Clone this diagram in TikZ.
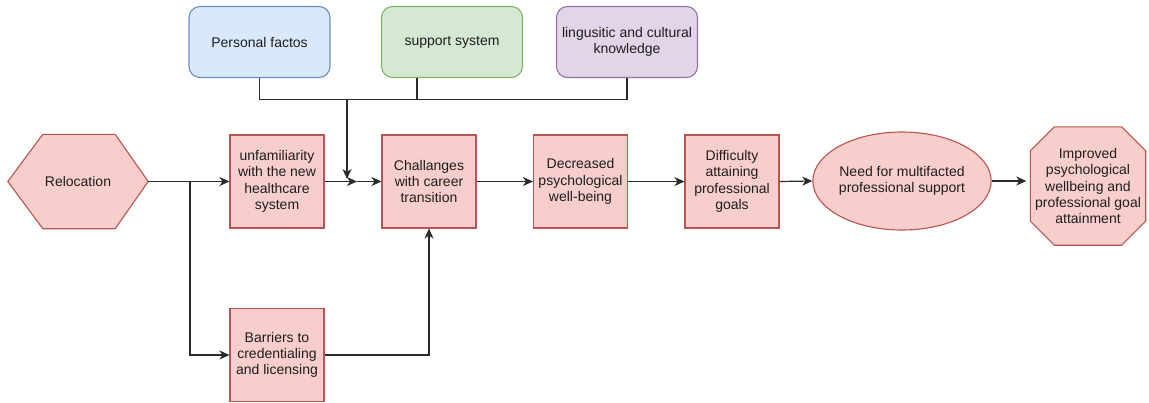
\documentclass[tikz,border=0pt]{standalone}
\usepackage{fontspec}
\setmainfont{Liberation Sans}
\usetikzlibrary{arrows.meta,shapes.geometric,calc}

\definecolor{redfill}{HTML}{F8CECC}
\definecolor{redline}{HTML}{B85450}
\definecolor{bluefill}{HTML}{DAE8FC}
\definecolor{blueline}{HTML}{6C8EBF}
\definecolor{greenfill}{HTML}{D5E8D4}
\definecolor{greenline}{HTML}{82B366}
\definecolor{purplefill}{HTML}{E1D5E7}
\definecolor{purpleline}{HTML}{9673A6}
\definecolor{ink}{HTML}{1E1E1E}
\definecolor{wire}{HTML}{2A2A2A}

\tikzset{
  base/.style={font=\fontsize{14}{16.3}\selectfont, text=ink, align=center, inner sep=0pt},
  stepbox/.style={base, draw=redline, fill=redfill, line width=1.1pt,
    minimum width=94pt, minimum height=93pt},
  factor/.style={base, rounded corners=11pt, line width=1.1pt,
    minimum width=141pt, minimum height=71pt},
  wirebase/.style={draw=wire, line width=1.2pt},
  flow/.style={wirebase, -{Stealth[length=10pt,width=9pt,inset=3pt]}},
}

\begin{document}
\begin{tikzpicture}[x=1pt,y=-1pt]
\useasboundingbox (0,0) rectangle (1149,402);

% influencing factors
\node[factor, draw=blueline, fill=bluefill] (pf) at (259.5,42) {Personal factos};
\node[factor, draw=greenline, fill=greenfill] (ss) at (452,42) {support system};
\node[factor, draw=purpleline, fill=purplefill] (lc) at (627,42) {lingusitic and cultural\\knowledge};

% relocation hexagon
\node[base, minimum width=140pt, minimum height=94pt] (reloc) at (78,181.5) {};
\filldraw[draw=redline, fill=redfill, line width=1.1pt]
  (reloc.west) -- ([xshift=35pt]reloc.north west) -- ([xshift=-33pt]reloc.north east)
  -- (reloc.east) -- ([xshift=-33pt]reloc.south east) -- ([xshift=35pt]reloc.south west) -- cycle;
\node[base] at (reloc.center) {Relocation};

% main chain
\node[stepbox] (unf) at (277,181.5) {unfamiliarity\\with the new\\healthcare\\system};
\node[stepbox] (bar) at (277,355) {Barriers to\\credentialing\\and licensing};
\node[stepbox] (chal) at (429,181.5) {Challanges\\with career\\transition};
\node[stepbox] (dec) at (580.5,181.5) {Decreased\\psychological\\well-being};
\node[stepbox] (diff) at (732,181.5) {Difficulty\\attaining\\professional\\goals};
\node[base, ellipse, draw=redline, fill=redfill, line width=1.1pt,
  minimum width=155pt, minimum height=98pt] (need) at (902,181) {Need for multifacted\\professional support};

% outcome octagon
\node[base, minimum width=115pt, minimum height=118pt] (imp) at (1088,186) {};
\filldraw[draw=redline, fill=redfill, line width=1.1pt]
  ([yshift=-24pt]imp.north west) -- ([xshift=24pt]imp.north west)
  -- ([xshift=-24pt]imp.north east) -- ([yshift=-24pt]imp.north east)
  -- ([yshift=24pt]imp.south east) -- ([xshift=-24pt]imp.south east)
  -- ([xshift=24pt]imp.south west) -- ([yshift=24pt]imp.south west) -- cycle;
\node[base] at (imp.center) {Improved\\psychological\\wellbeing and\\professional goal\\attainment};

% junction points
\coordinate (split) at (190,181.5);
\coordinate (merge) at (357,181.5);
\coordinate (bus) at (347,99.5);
\coordinate (drop) at (347,179);

% factor bus
\draw[wirebase] (pf.south) |- (bus) -| (lc.south);
\draw[wirebase] ([xshift=-35pt]ss.south) -- ++(0,22);
\draw[flow] (bus) -- (drop);

% flow arrows
\draw[flow] (reloc.east) -- (unf.west);
\draw[flow] (split) |- (bar.west);
\draw[flow] (bar.east) -| (chal.south);
\draw[flow] (unf.east) -- (merge);
\draw[flow] (merge) -- (chal.west);
\draw[flow] (chal.east) -- (dec.west);
\draw[flow] (dec.east) -- (diff.west);
\draw[flow] (diff.east) -- (need.west);
\draw[flow] (need.east) -- ([xshift=-4pt]need.east -| imp.west);
\end{tikzpicture}
\end{document}
